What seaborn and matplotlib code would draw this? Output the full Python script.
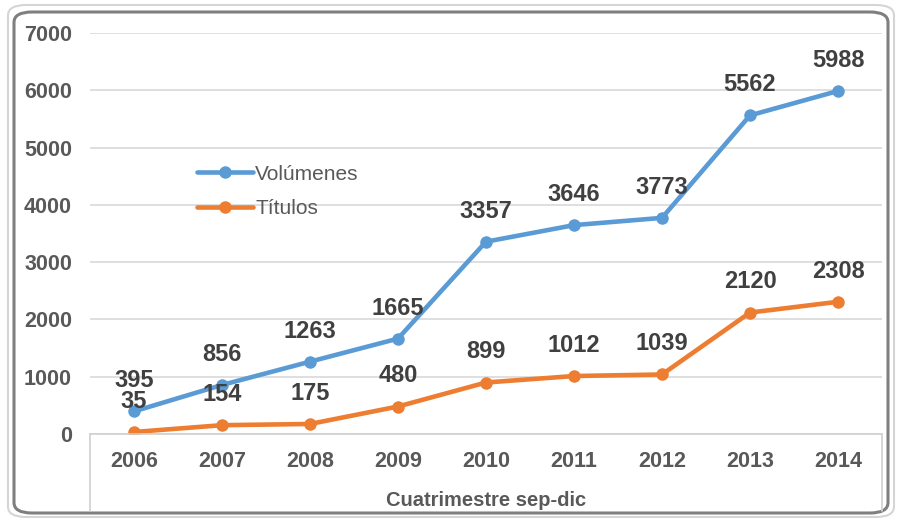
import pandas as pd
import matplotlib
matplotlib.use("Agg")
import matplotlib.pyplot as plt
from matplotlib.patches import FancyBboxPatch
from matplotlib.lines import Line2D
import seaborn as sns

# datos
years = [2006, 2007, 2008, 2009, 2010, 2011, 2012, 2013, 2014]
volumenes = [395, 856, 1263, 1665, 3357, 3646, 3773, 5562, 5988]
titulos = [35, 154, 175, 480, 899, 1012, 1039, 2120, 2308]
series_names = ["Volúmenes", "Títulos"]
colors = ["#5B9BD5", "#ED7D31"]
x_label = "Cuatrimestre sep-dic"

df = pd.DataFrame({
    "year": years * 2,
    "valor": volumenes + titulos,
    "serie": [series_names[0]] * len(years) + [series_names[1]] * len(years),
})

sns.set_theme(style="white")
plt.rcParams["font.family"] = ["Liberation Sans", "DejaVu Sans"]

fig = plt.figure(figsize=(8.97, 5.21), dpi=100)
ax = fig.add_axes([90 / 897, 87 / 521, 792 / 897, 401 / 521])

sns.lineplot(data=df, x="year", y="valor", hue="serie", palette=colors,
             marker="o", markersize=9, markeredgewidth=0, linewidth=3.3,
             ax=ax, legend=False)

# etiquetas de datos
for vals in (volumenes, titulos):
    for x, v in zip(years, vals):
        ax.annotate(str(v), (x, v), xytext=(0, 22), textcoords="offset points",
                    ha="center", va="center", fontsize=17, fontweight="bold",
                    color="#404040")

ax.set_xlim(years[0] - 0.5, years[-1] + 0.5)
ax.set_ylim(0, 7000)
ax.set_yticks(range(0, 7001, 1000))
ax.set_xticks(years)
ax.set_xticklabels([str(y) for y in years])
ax.grid(axis="y", color="#D9D9D9", linewidth=1.2)
ax.set_axisbelow(True)
for s in ["top", "right", "left"]:
    ax.spines[s].set_visible(False)
ax.spines["bottom"].set_color("#D0D0D0")
ax.spines["bottom"].set_linewidth(1.2)
ax.tick_params(axis="both", length=0, labelsize=15.5, labelcolor="#595959")
ax.tick_params(axis="y", pad=13)
ax.tick_params(axis="x", pad=12)
for lbl in ax.get_xticklabels() + ax.get_yticklabels():
    lbl.set_fontweight("bold")
ax.set_xlabel(x_label, fontsize=14.5, fontweight="bold", color="#595959", labelpad=14)
ax.set_ylabel("")

# leyenda
handles = [Line2D([0], [0], color=c, lw=3.3, marker="o", markersize=9,
                  markeredgewidth=0) for c in colors]
fig.legend(handles, series_names, loc="upper left",
           bbox_to_anchor=(178 / 897, 1 - 146 / 521), frameon=False,
           fontsize=15, labelcolor="#595959", handlelength=2.7,
           handletextpad=0.1, labelspacing=0.75)

# caja bajo el eje x
for xp in (90 / 897, 882 / 897):
    fig.add_artist(Line2D([xp, xp], [87 / 521, 10 / 521], color="#D0D0D0", lw=1.2))

# borde redondeado
fig.add_artist(FancyBboxPatch((8 / 897, 4 / 521), 886 / 897, 512 / 521,
                              boxstyle="round,pad=0,rounding_size=0.02",
                              fill=False, edgecolor="#D5D5D5", lw=1.5,
                              transform=fig.transFigure))
fig.add_artist(FancyBboxPatch((14 / 897, 8 / 521), 874 / 897, 501 / 521,
                              boxstyle="round,pad=0,rounding_size=0.02",
                              fill=False, edgecolor="#7F7F7F", lw=2.2,
                              transform=fig.transFigure))

fig.savefig("out.png", dpi=100)
